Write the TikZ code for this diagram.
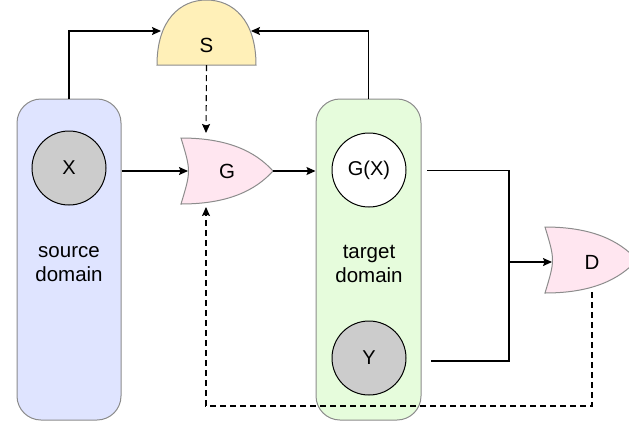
\documentclass[tikz,border=0pt]{standalone}
\usepackage{fontspec}
\setmainfont{Liberation Sans}
\usetikzlibrary{arrows.meta}
\definecolor{srcfill}{HTML}{DFE4FF}
\definecolor{tgtfill}{HTML}{E6FCDC}
\definecolor{sfill}{HTML}{FFF0B8}
\definecolor{gfill}{HTML}{FFE6F0}
\definecolor{edgegray}{HTML}{8C8C8C}
\definecolor{ballgray}{HTML}{CCCCCC}
\tikzset{
  domainbox/.style={draw=edgegray, rounded corners=24pt, line width=1pt, inner sep=0pt},
  ball/.style={circle, draw=black, line width=1pt, minimum size=74pt, inner sep=0pt, font=\fontsize{20}{24}\selectfont},
  lbl/.style={font=\fontsize{20.5}{24}\selectfont, align=center, inner sep=0pt},
  gate/.style={draw=edgegray, line width=1pt},
  conn/.style={line width=1.1pt, -{Stealth[length=9pt,width=8pt,inset=1.5pt]}},
  plain/.style={line width=1.1pt},
  dconn/.style={conn, dash pattern=on 6pt off 4pt}
}
\begin{document}
\begin{tikzpicture}[x=1pt,y=-1pt]
\useasboundingbox (0,0) rectangle (629,440);
% domains
\node[domainbox, fill=srcfill, minimum width=104pt, minimum height=321pt] (src) at (69,259.5) {};
\node[domainbox, fill=tgtfill, minimum width=105pt, minimum height=321pt] (tgt) at (368.5,259.5) {};
\node[ball, fill=ballgray] (X) at (69,168) {X};
\node[ball, fill=white] (GX) at (369,170) {G(X)};
\node[ball, fill=ballgray] (Y) at (369,358) {Y};
\node[lbl] (srctxt) at (69,264) {source\\domain};
\node[lbl] (tgttxt) at (369,264) {target\\domain};
% S dome
\path[gate, fill=sfill] (157,65) .. controls (157,20) and (180,0) .. (206.5,0)
  .. controls (233,0) and (256,20) .. (256,65) -- cycle;
\node[lbl] (S) at (206.5,45) {S};
\coordinate (Sl) at (161,31);
\coordinate (Sr) at (251,31);
\coordinate (Sb) at (206.5,65);
% G gate
\path[gate, fill=gfill] (181,138) .. controls (227,138) and (255,151) .. (273,171)
  .. controls (255,191) and (227,204) .. (181,204) .. controls (191,171) .. cycle;
\node[lbl] (G) at (227,171) {G};
\coordinate (Gin) at (188,171);
\coordinate (Gout) at (273,171);
\coordinate (Gtop) at (206,133);
\coordinate (Gbot) at (206,207);
% D gate
\path[gate, fill=gfill] (545,227) .. controls (591,227) and (619,240) .. (637,260)
  .. controls (619,280) and (591,293) .. (545,293) .. controls (555,260) .. cycle;
\node[lbl] (D) at (592,262) {D};
\coordinate (Din) at (552,262);
\coordinate (Dbot) at (592,292);
% connector helpers
\coordinate (gxo) at (427,170.5);
\coordinate (yo) at (431,361);
\coordinate (m) at (509,262);
\coordinate (fb) at (400,406);
% connectors
\draw[conn] (src.north) |- (Sl);
\draw[conn] (tgt.north) |- (Sr);
\draw[dconn] (Sb) -- (Gtop);
\draw[conn] (src.east |- Gin) -- (Gin);
\draw[conn] (Gout) -- (tgt.west |- Gout);
\draw[plain] (gxo) -| (m);
\draw[plain] (yo) -| (m);
\draw[conn] (m) -- (Din);
\draw[dconn] (Dbot) -- (Dbot |- fb) -| (Gbot);
\end{tikzpicture}
\end{document}
